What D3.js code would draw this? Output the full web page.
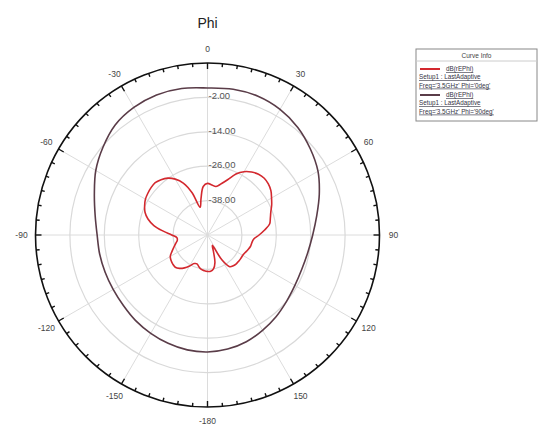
<!DOCTYPE html>
<html>
<head>
<meta charset="utf-8">
<script src="https://cdn.jsdelivr.net/npm/d3@7"></script>
<style>
  body { margin: 0; background: white; }
  svg { display: block; font-family: "Liberation Sans", Arial, sans-serif; }
</style>
</head>
<body>
<div id="chart"></div>
<script>

// angle ticks (deg) and their labels
const angleTicks = [0, 30, 60, 90, 120, 150, 180, -150, -120, -90, -60, -30]
const angleLabels = ["0", "30", "60", "90", "120", "150", "-180", "-150", "-120", "-90", "-60", "-30"]

// radial rings (dB)
const ringValues = [-38, -26, -14, -2]
const ringLabels = ["-38.00", "-26.00", "-14.00", "-2.00"]

// curve 1 : Phi='0deg' (red)
const phi0Theta = [0, 5, 10, 15, 20, 25, 30, 35, 40, 45, 50, 55, 60, 65, 70, 75, 80, 85, 90, 95,
  100, 105, 110, 115, 120, 125, 130, 135, 140, 145, 150, 155, 160, 165, 170, 175, 180,
  185, 190, 195, 200, 205, 210, 215, 220, 225, 230, 235, 240, 245, 250, 255, 260, 265,
  270, 275, 280, 285, 290, 295, 300, 305, 310, 315, 320, 325, 330, 335, 340, 345, 350, 355]
const phi0Db = [-32.0, -32.5, -32.8, -31.5, -29.5, -26.5, -24.5, -23.2, -22.3, -22.0, -22.3, -23.0, -24.2, -25.3, -26.5, -27.3, -28.0, -30.0, -32.0, -33.8,
  -34.3, -34.5, -35.0, -35.5, -35.8, -35.8, -35.8, -35.8, -36.0, -36.5, -40.0, -46.0, -44.0, -40.0, -38.0, -37.3, -37.3,
  -37.5, -37.8, -38.5, -39.3, -39.0, -37.5, -36.0, -34.8, -34.1, -34.2, -34.5, -35.0, -36.3, -37.5, -38.5, -39.3, -39.3,
  -37.5, -34.5, -31.0, -28.5, -26.8, -25.8, -25.0, -24.6, -24.3, -24.2, -24.8, -25.8, -27.5, -30.0, -34.3, -40.0, -37.0, -33.0]

// curve 2 : Phi='90deg' (dark)
const phi90Theta = [0, 10, 20, 30, 40, 50, 60, 70, 80, 90, 100, 110, 120, 130, 140, 150, 160, 170,
  180, 190, 200, 210, 220, 230, 240, 250, 260, 270, 280, 290, 300, 310, 320, 330, 340, 350]
const phi90Db = [1.3, 1.6, 1.5, 0.6, -1.0, -3.2, -5.5, -8.5, -11.3, -13.3, -14.5, -15.0, -14.8, -14.0, -12.8, -11.6, -10.4, -9.6,
  -9.2, -9.3, -9.8, -10.4, -11.0, -11.7, -12.0, -12.0, -11.8, -11.5, -10.2, -8.0, -5.0, -2.4, 0.1, 1.4, 2.0, 1.9]

const legendTitle = "Curve Info"
const legendRows = [
  ["dB(rEPhi)", "Setup1 : LastAdaptive", "Freq='3.5GHz' Phi='0deg'"],
  ["dB(rEPhi)", "Setup1 : LastAdaptive", "Freq='3.5GHz' Phi='90deg'"]
]
const colors = ["#d3282e", "#5a3c48"]

const width = 557
const height = 428
const cx = 207.5, cy = 235, R = 172

const svg = d3.select("#chart")
              .append("svg")
              .attr("width", width)
              .attr("height", height)
              .style("background", "white")

const rScale = d3.scaleLinear().domain([-50, 10]).range([0, R])
const aScale = d3.scaleLinear().domain([-180, 180]).range([-Math.PI, Math.PI])

const graph = svg.append("g").attr("transform", `translate(${cx}, ${cy})`)

// spokes
graph.selectAll(".spoke")
     .data(d3.range(0, 360, 30))
     .enter()
     .append("line")
     .attr("x1", 0).attr("y1", 0)
     .attr("x2", d => R * Math.sin(aScale(d)))
     .attr("y2", d => -R * Math.cos(aScale(d)))
     .attr("stroke", "#dcdcdc")
     .attr("stroke-width", 1)

// rings
graph.selectAll(".ring")
     .data(ringValues)
     .enter()
     .append("circle")
     .attr("r", d => rScale(d))
     .attr("fill", "none")
     .attr("stroke", "#d9d9d9")
     .attr("stroke-width", 1.2)

// curves
const radial = d3.lineRadial()
                 .angle(d => aScale(d[0]))
                 .radius(d => rScale(d[1]))
                 .curve(d3.curveCatmullRomClosed)

graph.append("path")
     .datum(phi90Theta.map((t, i) => [t, phi90Db[i]]))
     .attr("d", radial)
     .attr("fill", "none")
     .attr("stroke", colors[1])
     .attr("stroke-width", 1.6)

graph.append("path")
     .datum(phi0Theta.map((t, i) => [t, phi0Db[i]]))
     .attr("d", radial)
     .attr("fill", "none")
     .attr("stroke", colors[0])
     .attr("stroke-width", 1.6)

// ring labels
graph.selectAll(".ringlab")
     .data(ringValues)
     .enter()
     .append("text")
     .attr("x", 1)
     .attr("y", d => -rScale(d) + 2)
     .attr("font-size", 9.5)
     .attr("fill", "#555")
     .text((d, i) => ringLabels[i])

// outer circle + ticks
graph.append("circle")
     .attr("r", R)
     .attr("fill", "none")
     .attr("stroke", "#111")
     .attr("stroke-width", 1.6)

graph.selectAll(".tick")
     .data(d3.range(0, 360, 5))
     .enter()
     .append("line")
     .attr("x1", d => R * Math.sin(aScale(d)))
     .attr("y1", d => -R * Math.cos(aScale(d)))
     .attr("x2", d => (R - (d % 30 == 0 ? 6 : 3.5)) * Math.sin(aScale(d)))
     .attr("y2", d => -(R - (d % 30 == 0 ? 6 : 3.5)) * Math.cos(aScale(d)))
     .attr("stroke", "#111")
     .attr("stroke-width", 1.4)

graph.selectAll(".alab")
     .data(angleTicks)
     .enter()
     .append("text")
     .attr("x", d => 186 * Math.sin(aScale(d)))
     .attr("y", d => -186 * Math.cos(aScale(d)) + 3)
     .attr("text-anchor", "middle")
     .attr("font-size", 8.5)
     .attr("fill", "#444")
     .text((d, i) => angleLabels[i])

// title
svg.append("text")
   .attr("x", cx)
   .attr("y", 28)
   .attr("text-anchor", "middle")
   .attr("font-size", 14)
   .attr("fill", "#222")
   .text("Phi")

// legend
const lg = svg.append("g").attr("transform", "translate(416, 49)")
lg.append("rect")
  .attr("width", 121).attr("height", 72)
  .attr("fill", "white").attr("stroke", "#888").attr("stroke-width", 1)
lg.append("line").attr("x1", 0).attr("x2", 121).attr("y1", 12).attr("y2", 12)
  .attr("stroke", "#ccc")
lg.append("text")
  .attr("x", 60.5).attr("y", 9)
  .attr("text-anchor", "middle").attr("font-size", 6.5).attr("fill", "#444")
  .text(legendTitle)

legendRows.forEach((row, i) => {
  const y0 = 22 + i * 26
  lg.append("line")
    .attr("x1", 4).attr("x2", 24).attr("y1", y0 - 2).attr("y2", y0 - 2)
    .attr("stroke", colors[i]).attr("stroke-width", 2)
  row.forEach((t, j) => {
    lg.append("text")
      .attr("x", j == 0 ? 30 : 3)
      .attr("y", y0 + j * 8.3)
      .attr("font-size", 6.3)
      .attr("fill", "#334")
      .attr("text-decoration", "underline")
      .text(t)
  })
})

</script>
</body>
</html>
